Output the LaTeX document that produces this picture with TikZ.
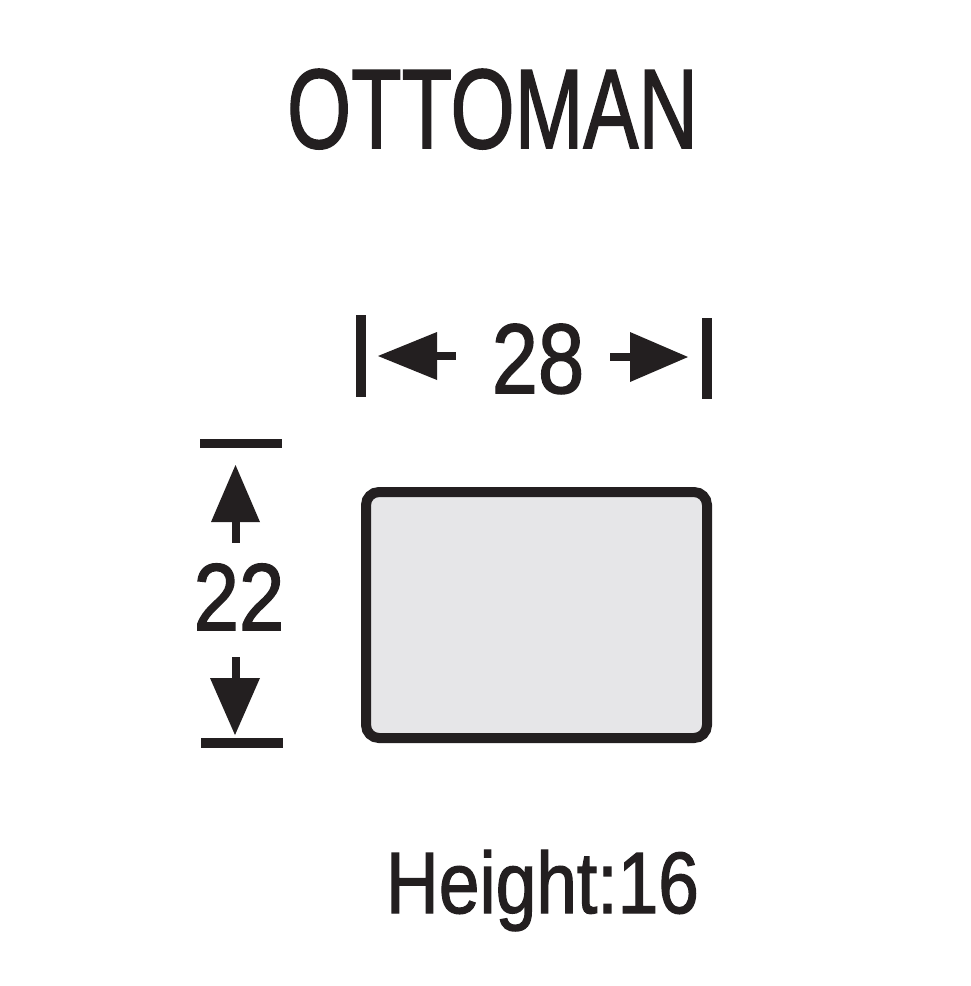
\documentclass[tikz,border=0pt]{standalone}
\usepackage{fontspec}
\setmainfont[FakeBold=1.6]{Liberation Sans}
\begin{document}
\begin{tikzpicture}[x=1pt,y=-1pt,
  ink/.style={fill=inkc,draw=none},
  bar/.style={draw=inkc,line width=10pt},
  shaft/.style={draw=inkc,line width=8pt},
  lbl/.style={anchor=base,inner sep=0pt,text=inkc}]
\definecolor{inkc}{HTML}{231F20}
\definecolor{boxfill}{HTML}{E6E6E8}
\useasboundingbox (0,0) rectangle (970,986);
\fill[white] (0,0) rectangle (970,986);
% title
\node[lbl] (title) at (492.5,148) {\fontsize{113}{113}\selectfont\scalebox{0.73}[1]{OTTOMAN}};
% width dimension
\node[lbl] (w) at (538,393) {\fontsize{99}{99}\selectfont\scalebox{0.84}[1]{28}};
\draw[bar] (361,315) -- (361,397);
\draw[bar] (707,318) -- (707,399);
\fill[ink] (378,356) -- (437,332) -- (437,380) -- cycle;
\draw[shaft] (436,356) -- (456,356);
\fill[ink] (688,357) -- (630,332) -- (630,382) -- cycle;
\draw[shaft] (610,357) -- (631,357);
% depth dimension
\node[lbl] (d) at (239,630) {\fontsize{95}{95}\selectfont\scalebox{0.86}[1]{22}};
\draw[bar,line width=9pt] (200,443.5) -- (282,443.5);
\draw[bar] (201,743) -- (283,743);
\fill[ink] (235.5,465) -- (211,522) -- (260,522) -- cycle;
\draw[shaft] (236,521) -- (236,543);
\fill[ink] (235,735) -- (210,678) -- (260,678) -- cycle;
\draw[shaft] (236,657) -- (236,679);
% ottoman plan
\draw[draw=inkc,fill=boxfill,line width=10pt,rounded corners=13pt] (366,492) rectangle (707,738);
% height
\node[lbl] (h) at (542.5,913) {\fontsize{87}{87}\selectfont\scalebox{0.84}[1]{Height:16}};
\end{tikzpicture}
\end{document}
